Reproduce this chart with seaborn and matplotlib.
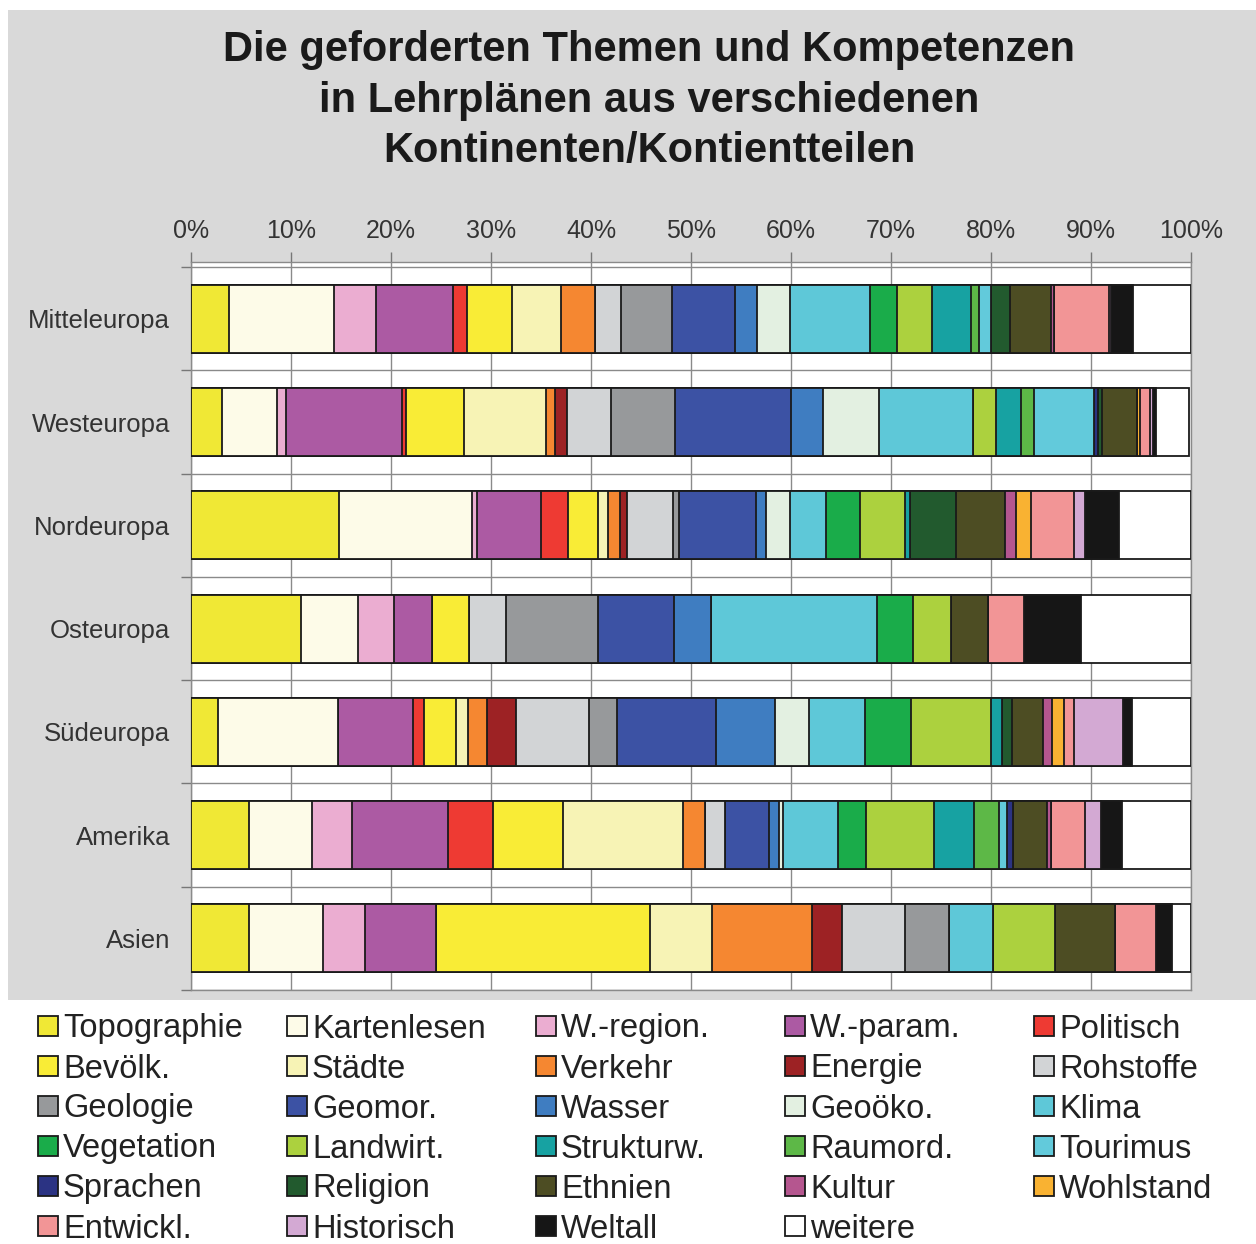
import numpy as np
import pandas as pd
import matplotlib
matplotlib.use("Agg")
import matplotlib.pyplot as plt
from matplotlib.patches import Rectangle
import seaborn as sns

regions = ["Mitteleuropa", "Westeuropa", "Nordeuropa", "Osteuropa", "Südeuropa", "Amerika", "Asien"]

series_names = ["Topographie", "Kartenlesen", "W.-region.", "W.-param.", "Politisch",
                "Bevölk.", "Städte", "Verkehr", "Energie", "Rohstoffe",
                "Geologie", "Geomor.", "Wasser", "Geoöko.", "Klima",
                "Vegetation", "Landwirt.", "Strukturw.", "Raumord.", "Tourimus",
                "Sprachen", "Religion", "Ethnien", "Kultur", "Wohlstand",
                "Entwickl.", "Historisch", "Weltall", "weitere"]

topographie = [3.8, 3.1, 14.75, 11.0, 2.7, 5.8, 5.8]
kartenlesen = [10.45, 5.5, 13.35, 5.65, 12.0, 6.3, 7.4]
w_region    = [4.25, 0.85, 0.5, 3.6, 0.0, 3.95, 4.2]
w_param     = [7.65, 11.65, 6.35, 3.85, 7.5, 9.6, 7.1]
politisch   = [1.4, 0.4, 2.7, 0.0, 1.1, 4.55, 0.0]
bevoelk     = [4.5, 5.8, 3.0, 3.65, 3.15, 7.0, 21.4]
staedte     = [4.9, 8.15, 1.05, 0.0, 1.25, 11.95, 6.2]
verkehr     = [3.4, 0.9, 1.2, 0.0, 1.85, 2.25, 10.0]
energie     = [0.0, 1.25, 0.7, 0.0, 2.95, 0.0, 3.0]
rohstoffe   = [2.6, 4.35, 4.6, 3.7, 7.25, 2.0, 6.3]
geologie    = [5.1, 6.45, 0.55, 9.25, 2.85, 0.0, 4.4]
geomor      = [6.3, 11.6, 7.7, 7.55, 9.9, 4.35, 0.0]
wasser      = [2.2, 3.2, 1.0, 3.75, 5.9, 1.0, 0.0]
geooeko     = [3.3, 5.6, 2.45, 0.0, 3.35, 0.4, 0.0]
klima       = [8.0, 9.4, 3.55, 16.6, 5.6, 5.5, 4.4]
vegetation  = [2.7, 0.0, 3.45, 3.6, 4.6, 2.85, 0.0]
landwirt    = [3.5, 2.3, 4.45, 3.75, 8.0, 6.75, 6.2]
strukturw   = [3.9, 2.5, 0.5, 0.0, 1.1, 4.05, 0.0]
raumord     = [0.8, 1.3, 0.0, 0.0, 0.0, 2.45, 0.0]
tourimus    = [1.2, 6.0, 0.0, 0.0, 0.0, 0.85, 0.0]
sprachen    = [0.0, 0.4, 0.0, 0.0, 0.0, 0.55, 0.0]
religion    = [1.9, 0.4, 4.65, 0.0, 1.05, 0.0, 0.0]
ethnien     = [4.1, 3.5, 4.85, 3.75, 3.05, 3.45, 6.0]
kultur      = [0.3, 0.0, 1.15, 0.0, 0.95, 0.4, 0.0]
wohlstand   = [0.0, 0.3, 1.5, 0.0, 1.2, 0.0, 0.0]
entwickl    = [5.5, 1.0, 4.25, 3.6, 1.0, 3.35, 4.1]
historisch  = [0.2, 0.3, 1.15, 0.0, 4.85, 1.65, 0.0]
weltall     = [2.2, 0.3, 3.4, 5.65, 0.95, 2.1, 1.6]
weitere     = [5.85, 3.3, 7.2, 11.05, 5.9, 6.9, 1.9]

series_values = [topographie, kartenlesen, w_region, w_param, politisch,
                 bevoelk, staedte, verkehr, energie, rohstoffe,
                 geologie, geomor, wasser, geooeko, klima,
                 vegetation, landwirt, strukturw, raumord, tourimus,
                 sprachen, religion, ethnien, kultur, wohlstand,
                 entwickl, historisch, weltall, weitere]

colors = ["#f0e835", "#fdfbe8", "#ebadd1", "#ac5aa3", "#ee3a33",
          "#f9ec36", "#f7f3b5", "#f58731", "#9d2224", "#d2d4d6",
          "#97999b", "#3c52a4", "#3f7dc1", "#e3f0e1", "#5ec8d8",
          "#1aac4a", "#acd13e", "#17a2a2", "#5db847", "#62cadb",
          "#2b3383", "#225a2e", "#4d4d23", "#b5568f", "#f9b232",
          "#f29596", "#d3a9d3", "#161616", "#ffffff"]

xticks = list(range(0, 101, 10))
xticklabels = [f"{t}%" for t in xticks]

title_lines = ["Die geforderten Themen und Kompetenzen",
               "in Lehrplänen aus verschiedenen",
               "Kontinenten/Kontientteilen"]

# ---------------------------------------------------------------
sns.set_theme(style="white")
plt.rcParams["font.family"] = ["Liberation Sans", "DejaVu Sans"]

W, H = 1256, 1244
fig = plt.figure(figsize=(W / 100, H / 100), dpi=100, facecolor="white")

# gray panel
fig.patches.append(Rectangle((8 / W, 1 - 1000 / H), 1 - 8 / W, (1000 - 10) / H,
                             transform=fig.transFigure, facecolor="#d9d9d9",
                             edgecolor="none", zorder=-10))

ax = fig.add_axes([191 / W, 1 - 990 / H, 1000 / W, 728 / H])
ax.set_facecolor("white")

df = pd.DataFrame({"region": regions})
cum = np.zeros(len(regions))
cums = []
for vals in series_values:
    cum = cum + np.array(vals)
    cums.append(cum.copy())
for i, name in enumerate(series_names):
    df[name] = cums[i]

# draw from the longest (cumulative) to the shortest so segments overlay correctly
for i in reversed(range(len(series_names))):
    sns.barplot(data=df, x=series_names[i], y="region", order=regions, orient="h",
                color=colors[i], saturation=1, width=0.66, edgecolor="#1a1a1a",
                linewidth=1.3, errorbar=None, ax=ax, zorder=3)

ax.set_xlim(0, 100)
ax.set_ylim(6.5, -0.55)
ax.set_xlabel("")
ax.set_ylabel("")

ax.xaxis.tick_top()
ax.set_xticks(xticks)
ax.set_xticklabels(xticklabels, fontsize=18, color="#333333")
ax.set_yticks(range(len(regions)))
ax.set_yticklabels(regions, fontsize=18.5, color="#333333")
ax.set_yticks(np.arange(-0.5, len(regions), 1.0), minor=True)

ax.tick_params(axis="x", which="major", top=True, bottom=False, length=7,
               width=1, color="#777777", pad=7)
ax.tick_params(axis="y", which="major", left=False, pad=9)
ax.tick_params(axis="y", which="minor", left=True, length=7, width=1, color="#777777")

ax.set_axisbelow(True)
ax.grid(axis="x", which="major", color="#8a8a8a", linewidth=1.0)
ax.grid(axis="y", which="minor", color="#8a8a8a", linewidth=1.0)
ax.grid(axis="y", which="major", visible=False)
for sp in ax.spines.values():
    sp.set_color("#8a8a8a")
    sp.set_linewidth(1.0)

# title
for k, (line, yy) in enumerate(zip(title_lines, [50, 101, 151])):
    fig.text(649 / W, 1 - yy / H, line, ha="center", va="center",
             fontsize=30, fontweight="bold", color="#1a1a1a")

# legend grid (row-major, 5 columns)
sq = 20
for i, (name, col) in enumerate(zip(series_names, colors)):
    r, c = divmod(i, 5)
    x0 = 38 + 249 * c
    yc = 1026 + 40 * r
    fig.patches.append(Rectangle((x0 / W, 1 - (yc + sq / 2) / H), sq / W, sq / H,
                                 transform=fig.transFigure, facecolor=col,
                                 edgecolor="#1a1a1a", linewidth=1.3, zorder=5))
    fig.text((x0 + 25) / W, 1 - (yc + 3) / H, name, ha="left", va="center",
             fontsize=23.5, color="#222222")

fig.savefig("out.png", dpi=100, facecolor="white")
